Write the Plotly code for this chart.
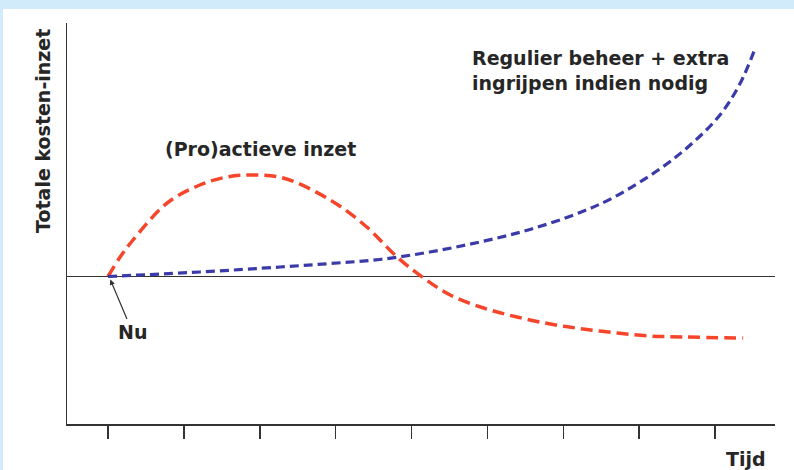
import plotly.graph_objects as go

# Time axis (tick positions 1..9 are the unlabeled tick marks)
tick_positions = [1, 2, 3, 4, 5, 6, 7, 8, 9]

# (Pro)actieve inzet  (red)
red_t = [1.0, 1.16, 1.33, 1.78, 2.21, 2.57, 2.91, 3.31, 3.93, 4.41, 4.81, 5.15,
         5.51, 5.95, 6.39, 6.83, 7.26, 7.71, 8.14, 8.58, 9.37]
red_cost = [0.0, 1.95, 3.65, 7.35, 9.15, 9.95, 10.15, 9.85, 7.65, 4.95, 1.95, -0.1,
            -1.85, -3.15, -4.05, -4.75, -5.25, -5.65, -5.95, -6.05, -6.15]

# Regulier beheer + extra ingrijpen indien nodig  (blue)
blue_t = [1.0, 2.21, 3.27, 3.93, 4.58, 5.24, 5.90, 6.56, 7.22, 7.66, 8.28, 8.71,
          9.07, 9.33, 9.53]
blue_cost = [0.0, 0.45, 0.95, 1.3, 1.7, 2.45, 3.45, 4.7, 6.4, 7.9, 10.8, 13.4,
             16.2, 19.3, 22.85]

W, H = 794, 470
ML, MR, MT, MB = 67, 19, 23, 46
PW, PH = W - ML - MR, H - MT - MB


def px(x):
    return (x - ML) / PW


def py(y):
    return (H - MB - y) / PH


FONT = "DejaVu Sans"
TXT = "#262626"
FS = 19


def label(s):
    return "<b>" + s + "</b>"


fig = go.Figure()
fig.add_trace(go.Scatter(x=red_t, y=red_cost, mode="lines", line_shape="spline",
                         line=dict(color="#f5452a", width=3.5, dash="12px,6px"),
                         showlegend=False, hoverinfo="skip"))
fig.add_trace(go.Scatter(x=blue_t, y=blue_cost, mode="lines", line_shape="spline",
                         line=dict(color="#3a3aa8", width=3.2, dash="9px,5px"),
                         showlegend=False, hoverinfo="skip"))

fig.update_layout(
    width=W, height=H,
    margin=dict(l=ML, r=MR, t=MT, b=MB, pad=0),
    paper_bgcolor="#d2ebfa",
    plot_bgcolor="white",
    showlegend=False,
    xaxis=dict(range=[0.46, 9.79], showgrid=False, zeroline=False,
               showline=True, linecolor="#333333", linewidth=1.5,
               tickmode="array", tickvals=tick_positions, ticks="outside",
               ticklen=13, tickwidth=1.5, tickcolor="#333333",
               showticklabels=False, fixedrange=True),
    yaxis=dict(range=[-14.75, 25.35], showgrid=False, zeroline=True,
               zerolinecolor="#333333", zerolinewidth=1.5,
               showline=True, linecolor="#333333", linewidth=1.5,
               ticks="", showticklabels=False, fixedrange=True),
    shapes=[dict(type="rect", xref="paper", yref="paper",
                 x0=px(3), x1=px(W + 2), y0=py(H + 2), y1=py(9),
                 fillcolor="white", line=dict(width=0), layer="below")],
)

fig.add_annotation(xref="paper", yref="paper", x=px(470), y=py(70),
                   xanchor="left", yanchor="middle", align="left", showarrow=False,
                   text=label("Regulier beheer + extra") + "<br>" + label("ingrijpen indien nodig"),
                   font=dict(family=FONT, size=FS, color=TXT))
fig.add_annotation(xref="paper", yref="paper", x=px(163), y=py(149),
                   xanchor="left", yanchor="middle", showarrow=False,
                   text=label("(Pro)actieve inzet"),
                   font=dict(family=FONT, size=FS, color=TXT))
fig.add_annotation(xref="paper", yref="paper", x=px(43), y=py(131),
                   xanchor="center", yanchor="middle", showarrow=False,
                   textangle=-90, text=label("Totale kosten-inzet"),
                   font=dict(family=FONT, size=FS, color=TXT))
fig.add_annotation(xref="paper", yref="paper", x=px(746), y=py(459),
                   xanchor="center", yanchor="middle", showarrow=False,
                   text=label("Tijd"), font=dict(family=FONT, size=FS, color=TXT))
fig.add_annotation(x=1.03, y=-0.3, text=label("Nu"), showarrow=True,
                   ax=22, ay=52, arrowhead=2, arrowsize=0.9, arrowwidth=1.2,
                   arrowcolor="#333333",
                   font=dict(family=FONT, size=FS, color=TXT))

fig.write_html("out.html",
               config={"displayModeBar": False, "staticPlot": True},
               post_script="document.body.style.margin='0';"
                           "document.body.style.background='#d2ebfa';")
